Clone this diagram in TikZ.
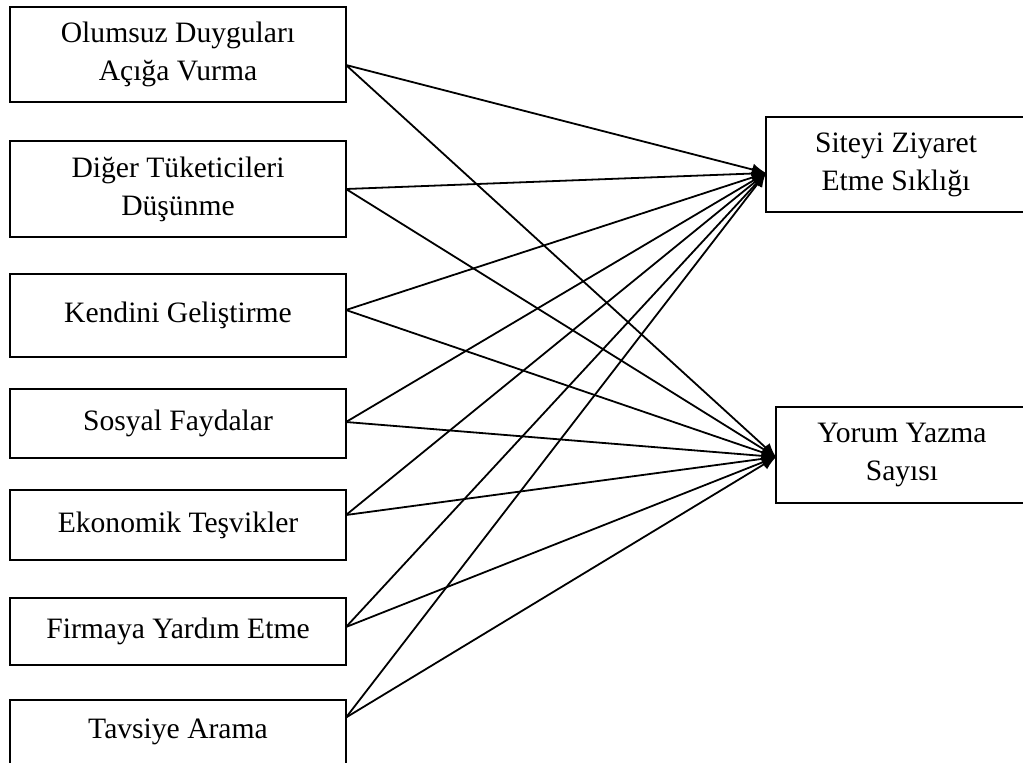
\documentclass[tikz,border=0pt]{standalone}
\usepackage{fontspec}
\setmainfont{Liberation Serif}
\usetikzlibrary{positioning,arrows.meta}

\begin{document}
\begin{tikzpicture}[
  x=0.5pt, y=-0.5pt,
  font=\fontsize{14.8}{19}\selectfont,
  inbox/.style={draw, line width=1pt, outer sep=0pt, inner sep=2pt,
                minimum width=168pt, align=center},
  outbox/.style={draw, line width=1pt, outer sep=0pt, inner sep=2pt,
                 minimum height=47.5pt, align=center, anchor=north west},
  arr/.style={-{Latex[length=7pt, width=6pt]}, line width=0.9pt}
]
\clip (0,0) rectangle (1023,762);

% ============ LEFT: MOTIVES ============
\node[inbox, minimum height=47.5pt] (olum) at (178,54.5) {Olumsuz Duyguları\\Açığa Vurma};
\node[inbox, minimum height=48pt, below=19.5pt of olum] (diger) {Diğer Tüketicileri\\Düşünme};
\node[inbox, minimum height=41.5pt, below=18.5pt of diger] (kendi) {Kendini Geliştirme};
\node[inbox, minimum height=34.5pt, below=16pt of kendi] (sosyal) {Sosyal Faydalar};
\node[inbox, minimum height=35pt, below=16pt of sosyal] (ekon) {Ekonomik Teşvikler};
\node[inbox, minimum height=33.5pt, below=19pt of ekon] (firma) {Firmaya Yardım Etme};
\node[inbox, minimum height=32pt, below=17.5pt of firma] (tavs) {Tavsiye Arama};

% ============ RIGHT: OUTCOMES ============
\node[outbox, minimum width=130pt] (site) at (766,117) {Siteyi Ziyaret\\Etme Sıklığı};
\node[outbox, minimum width=126pt, minimum height=48pt] (yorum) at (776,407) {Yorum Yazma\\Sayısı};

% ============ PATHS ============
\draw[arr] ([yshift=-5.25pt]olum.east) -- ([yshift=-4.25pt]site.west);
\draw[arr] ([yshift=-5.25pt]olum.east) -- ([yshift=-1pt]yorum.west);
\draw[arr] (diger.east) -- ([yshift=-4.25pt]site.west);
\draw[arr] (diger.east) -- ([yshift=-1pt]yorum.west);
\draw[arr] ([yshift=2.75pt]kendi.east) -- ([yshift=-4.25pt]site.west);
\draw[arr] ([yshift=2.75pt]kendi.east) -- ([yshift=-1pt]yorum.west);
\draw[arr] ([yshift=0.75pt]sosyal.east) -- ([yshift=-4.25pt]site.west);
\draw[arr] ([yshift=0.75pt]sosyal.east) -- ([yshift=-1pt]yorum.west);
\draw[arr] ([yshift=5pt]ekon.east) -- ([yshift=-4.25pt]site.west);
\draw[arr] ([yshift=5pt]ekon.east) -- ([yshift=-1pt]yorum.west);
\draw[arr] ([yshift=2.25pt]firma.east) -- ([yshift=-4.25pt]site.west);
\draw[arr] ([yshift=2.25pt]firma.east) -- ([yshift=-1pt]yorum.west);
\draw[arr] ([yshift=7.25pt]tavs.east) -- ([yshift=-4.25pt]site.west);
\draw[arr] ([yshift=7.25pt]tavs.east) -- ([yshift=-1pt]yorum.west);

\end{tikzpicture}
\end{document}
